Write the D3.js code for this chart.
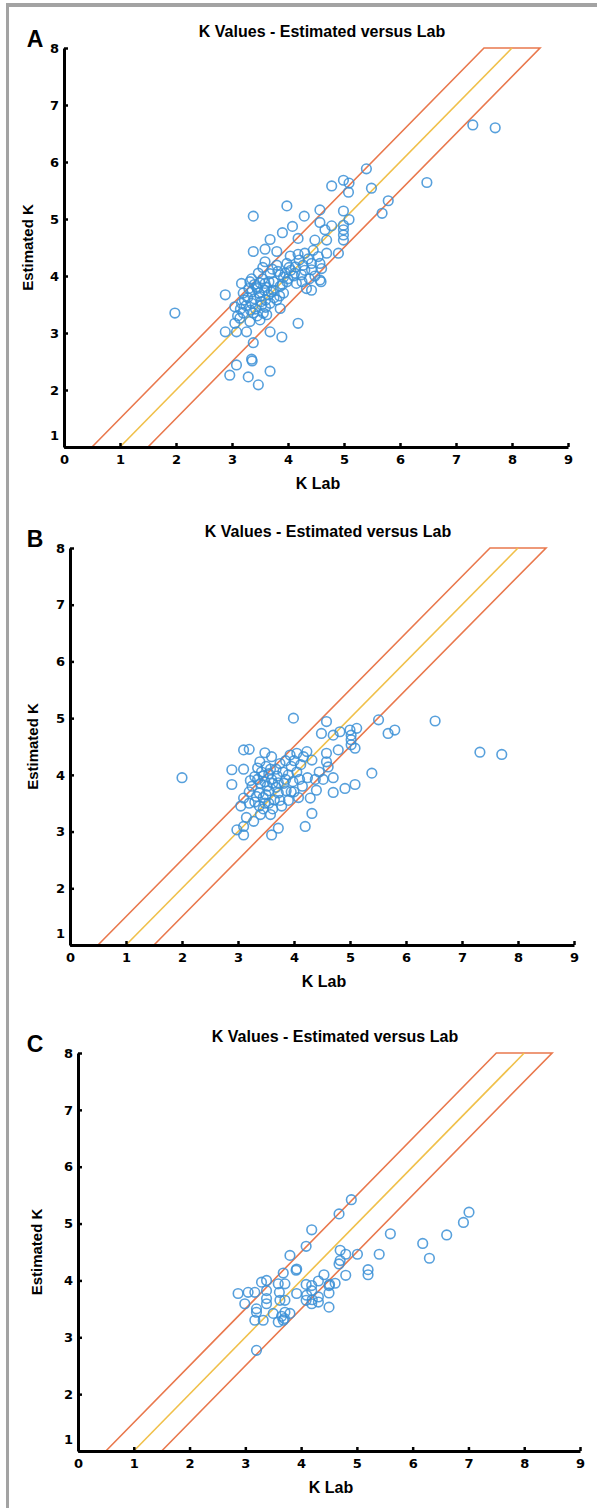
<!DOCTYPE html>
<html>
<head>
<meta charset="utf-8">
<script src="https://cdn.jsdelivr.net/npm/d3@7"></script>
<style>
  body { margin: 0; background: #fff; }
  svg { display: block; }
  .tick text { font-family: "DejaVu Sans", sans-serif; font-weight: bold; font-size: 13px; }
</style>
</head>
<body>
<div id="chart"></div>
<script>
// Axis ticks
const xTicks = [0, 1, 2, 3, 4, 5, 6, 7, 8, 9];
const yTicks = [1, 2, 3, 4, 5, 6, 7, 8];

// Agreement band: y = x and y = x +/- 0.5
const bandUpper = [[0.5, 1], [7.5, 8], [8.5, 8], [1.5, 1]];
const identity = [[1, 1], [8, 8]];

// Panel A points [K Lab, Estimated K]
const pointsA = [
  [5.40, 5.88], [4.99, 5.68], [5.09, 5.63], [4.78, 5.58], [5.08, 5.47], [5.49, 5.54],
  [6.48, 5.64], [5.79, 5.32], [5.68, 5.10], [3.98, 5.23], [3.38, 5.05], [4.29, 5.05],
  [4.57, 5.16], [4.99, 5.14], [5.09, 4.99], [4.99, 4.89], [4.99, 4.81], [4.99, 4.72],
  [4.99, 4.63], [4.57, 4.94], [4.78, 4.88], [4.66, 4.81], [4.08, 4.87], [3.90, 4.76],
  [3.68, 4.64], [4.18, 4.66], [4.48, 4.63], [4.69, 4.63], [3.38, 4.43], [3.59, 4.47],
  [3.80, 4.43], [4.04, 4.35], [4.18, 4.38], [4.30, 4.40], [4.54, 4.34], [4.69, 4.40],
  [4.90, 4.40], [4.57, 4.22], [3.59, 4.25], [3.80, 4.19], [3.98, 4.22], [4.13, 4.16],
  [4.27, 4.19], [4.42, 4.22], [4.60, 4.13], [3.47, 4.05], [3.68, 4.04], [3.86, 4.02],
  [4.10, 4.00], [4.24, 4.02], [4.42, 4.11], [4.57, 3.93], [4.59, 3.90], [3.17, 3.87],
  [3.32, 3.90], [3.44, 3.81], [3.59, 3.87], [3.74, 3.90], [3.86, 3.82], [3.98, 3.90],
  [4.15, 3.87], [4.33, 3.78], [4.42, 3.75], [2.88, 3.67], [3.20, 3.70], [3.35, 3.72],
  [3.50, 3.64], [3.65, 3.67], [3.80, 3.58], [3.92, 3.70], [3.35, 3.52], [3.53, 3.49],
  [3.68, 3.52], [3.86, 3.43], [3.05, 3.46], [3.20, 3.35], [3.38, 3.35], [3.56, 3.35],
  [3.14, 3.26], [3.32, 3.20], [3.50, 3.23], [3.05, 3.17], [4.18, 3.17], [2.88, 3.02],
  [3.08, 3.02], [3.26, 3.02], [3.68, 3.02], [3.89, 2.93], [3.38, 2.83], [3.35, 2.54],
  [3.36, 2.51], [3.08, 2.44], [3.68, 2.33], [2.96, 2.26], [3.29, 2.23], [3.47, 2.09],
  [1.98, 3.35], [3.17, 3.52], [3.74, 3.75], [4.05, 4.10], [3.40, 3.60], [3.45, 3.78],
  [3.55, 3.95], [3.62, 3.80], [3.70, 3.72], [3.28, 3.62], [3.42, 3.42], [3.25, 3.48],
  [3.60, 3.58], [3.95, 4.05], [4.20, 4.28], [4.36, 4.30], [3.10, 3.30], [3.50, 3.88],
  [3.82, 4.08], [4.00, 3.95], [3.35, 3.95], [4.45, 4.45], [7.30, 6.65], [7.70, 6.60],
  [3.30, 3.78], [3.48, 3.70], [3.58, 3.75], [3.66, 3.90], [3.40, 3.85], [3.52, 3.55],
  [3.33, 3.40], [3.45, 3.30], [3.60, 3.45], [3.75, 3.62], [3.90, 3.85], [4.02, 4.15],
  [4.12, 4.05], [4.30, 4.10], [4.38, 3.95], [3.22, 3.58], [3.15, 3.42], [3.92, 3.98],
  [3.72, 4.12], [3.55, 4.15], [4.25, 3.90], [4.48, 4.00], [3.85, 3.65], [3.62, 3.32]
];

// Panel B points [K Lab, Estimated K]
const pointsB = [
  [3.99, 5.00], [4.58, 4.94], [5.51, 4.97], [6.52, 4.95], [5.68, 4.73], [5.80, 4.79],
  [4.49, 4.73], [4.70, 4.70], [4.82, 4.76], [5.00, 4.79], [5.02, 4.70], [5.02, 4.62],
  [5.02, 4.53], [5.12, 4.82], [5.09, 4.47], [4.79, 4.44], [4.58, 4.38], [4.58, 4.23],
  [4.61, 4.14], [5.39, 4.03], [3.10, 4.44], [3.20, 4.45], [3.48, 4.39], [3.60, 4.32],
  [3.93, 4.35], [4.05, 4.38], [4.17, 4.32], [4.23, 4.41], [2.89, 4.09], [3.10, 4.10],
  [3.39, 4.23], [3.75, 4.20], [4.32, 4.26], [3.30, 3.97], [3.42, 4.05], [3.55, 4.02],
  [3.68, 4.10], [2.89, 3.83], [3.10, 3.59], [3.35, 3.92], [3.48, 3.88], [3.60, 3.92],
  [3.72, 3.86], [3.85, 3.92], [3.98, 3.88], [4.10, 3.92], [4.24, 3.95], [4.38, 3.92],
  [4.52, 3.92], [4.91, 3.76], [5.09, 3.83], [4.70, 3.69], [4.40, 3.73], [4.29, 3.59],
  [3.20, 3.70], [3.38, 3.68], [3.55, 3.72], [3.72, 3.68], [3.86, 3.72], [3.05, 3.45],
  [3.20, 3.50], [3.38, 3.45], [3.55, 3.50], [3.65, 3.56], [4.32, 3.32], [4.20, 3.09],
  [3.10, 3.09], [2.98, 3.03], [3.10, 2.94], [3.60, 2.94], [3.72, 3.06], [3.40, 3.30],
  [3.33, 3.62], [3.45, 3.60], [3.62, 3.40], [3.78, 3.45], [3.90, 3.55], [4.00, 3.70],
  [4.05, 4.05], [4.15, 3.80], [3.50, 4.15], [3.85, 4.25], [3.25, 3.80], [3.95, 4.15],
  [4.45, 4.05], [4.70, 3.95], [2.00, 3.95], [7.32, 4.40], [7.71, 4.36],
  [3.40, 3.85], [3.52, 3.80], [3.62, 3.85], [3.45, 3.98], [3.58, 4.10], [3.70, 3.98],
  [3.80, 4.05], [3.90, 4.00], [3.50, 3.65], [3.68, 3.78], [3.30, 3.52], [3.45, 3.40],
  [3.58, 3.30], [3.75, 3.55], [3.82, 3.85], [4.00, 4.25], [4.12, 4.18], [3.35, 4.12],
  [3.22, 3.90], [3.15, 3.25], [3.28, 3.18], [3.95, 3.70], [4.08, 3.60], [3.48, 3.50]
];

// Panel C points [K Lab, Estimated K]
const pointsC = [
  [4.90, 5.42], [4.68, 5.17], [4.19, 4.89], [4.09, 4.60], [3.80, 4.44], [3.91, 4.18],
  [3.92, 4.20], [3.68, 4.13], [5.60, 4.82], [6.18, 4.65], [6.30, 4.39], [6.61, 4.80],
  [6.91, 5.02], [7.01, 5.20], [5.40, 4.46], [5.20, 4.19], [5.20, 4.10], [5.01, 4.46],
  [4.80, 4.09], [4.70, 4.53], [4.80, 4.46], [4.70, 4.35], [4.68, 4.29], [4.61, 3.95],
  [4.50, 3.91], [4.51, 3.93], [4.50, 3.78], [4.50, 3.53], [4.41, 4.10], [4.31, 3.99],
  [4.19, 3.91], [4.19, 3.82], [4.31, 3.71], [4.31, 3.62], [4.19, 3.59], [4.09, 3.93],
  [4.09, 3.65], [4.10, 3.74], [3.92, 3.77], [3.71, 3.94], [3.59, 3.94], [3.61, 3.79],
  [3.71, 3.65], [3.62, 3.65], [3.71, 3.44], [3.68, 3.30], [3.59, 3.27], [3.80, 3.42],
  [3.38, 4.00], [3.29, 3.97], [3.38, 3.82], [3.38, 3.68], [3.38, 3.59], [3.17, 3.79],
  [3.05, 3.79], [2.87, 3.77], [2.99, 3.59], [3.20, 3.50], [3.20, 3.44], [3.17, 3.30],
  [3.32, 3.30], [3.50, 3.42], [3.20, 2.77], [3.65, 3.37], [3.70, 3.33], [4.20, 3.66]
];

// Panel frames (pixel boxes)
const panels = [
  { letter: "A", points: pointsA, x0: 64, x1: 568, yTop: 48, yBot: 447, ylabX: 33 },
  { letter: "B", points: pointsB, x0: 70, x1: 574, yTop: 548, yBot: 945, ylabX: 38 },
  { letter: "C", points: pointsC, x0: 78, x1: 580, yTop: 1053, yBot: 1451, ylabX: 42 }
];

const width = 597, height = 1508;
const blue = "#3a8fd6", orange = "#e9784d", yellow = "#f0c04a";

const svg = d3.select("#chart").append("svg")
  .attr("width", width)
  .attr("height", height);

// gray frame, left and top
svg.append("rect").attr("x", 6).attr("y", 3).attr("width", 3).attr("height", height).attr("fill", "#a3a3a3");
svg.append("rect").attr("x", 6).attr("y", 3).attr("width", width).attr("height", 4).attr("fill", "#a3a3a3");

panels.forEach(p => {
  const x = d3.scaleLinear().domain([0, 9]).range([p.x0, p.x1]);
  const y = d3.scaleLinear().domain([1, 8]).range([p.yBot, p.yTop]);
  const g = svg.append("g");
  const line = d3.line().x(d => x(d[0])).y(d => y(d[1]));

  // title and panel letter
  g.append("text")
    .attr("x", (p.x0 + p.x1) / 2 + 6)
    .attr("y", p.yTop - 11)
    .attr("text-anchor", "middle")
    .attr("font-family", "Liberation Sans Narrow, Liberation Sans, sans-serif")
    .attr("font-weight", "bold")
    .attr("font-size", 16)
    .text("K Values - Estimated versus Lab");

  g.append("text")
    .attr("x", 35)
    .attr("y", p.yTop - 1)
    .attr("text-anchor", "middle")
    .attr("font-family", "Liberation Sans, sans-serif")
    .attr("font-weight", "bold")
    .attr("font-size", 23)
    .text(p.letter);

  // band lines
  g.append("path")
    .datum(bandUpper)
    .attr("fill", "none")
    .attr("stroke", orange)
    .attr("stroke-width", 1.6)
    .attr("d", line);

  g.append("path")
    .datum(identity)
    .attr("fill", "none")
    .attr("stroke", yellow)
    .attr("stroke-width", 1.6)
    .attr("d", line);

  // points
  g.append("g").selectAll("circle")
    .data(p.points)
    .join("circle")
    .attr("cx", d => x(d[0]))
    .attr("cy", d => y(d[1]))
    .attr("r", 4.8)
    .attr("fill", "none")
    .attr("stroke", blue)
    .attr("stroke-opacity", 0.85)
    .attr("stroke-width", 1.6);

  // axes
  const xAxis = g.append("g")
    .attr("transform", `translate(0,${p.yBot})`)
    .call(d3.axisBottom(x).tickValues(xTicks).tickFormat(d3.format("d"))
      .tickSize(-4).tickSizeOuter(0).tickPadding(8));
  const yAxis = g.append("g")
    .attr("transform", `translate(${p.x0},0)`)
    .call(d3.axisLeft(y).tickValues(yTicks).tickFormat(d3.format("d"))
      .tickSize(-4).tickSizeOuter(0).tickPadding(5));

  [xAxis, yAxis].forEach(a => {
    a.select(".domain").attr("stroke-width", 3);
    a.selectAll(".tick line").attr("stroke-width", 2.5);
  });
  yAxis.selectAll(".tick").filter(d => d === 1).select("text").attr("dy", "-0.55em");

  g.append("text")
    .attr("x", (p.x0 + p.x1) / 2 + 2)
    .attr("y", p.yBot + 42)
    .attr("text-anchor", "middle")
    .attr("font-family", "Liberation Sans Narrow, Liberation Sans, sans-serif")
    .attr("font-weight", "bold")
    .attr("font-size", 16)
    .text("K Lab");

  g.append("text")
    .attr("transform", `translate(${p.ylabX},${(p.yTop + p.yBot) / 2}) rotate(-90)`)
    .attr("text-anchor", "middle")
    .attr("font-family", "Liberation Sans Narrow, Liberation Sans, sans-serif")
    .attr("font-weight", "bold")
    .attr("font-size", 15)
    .text("Estimated K");
});
</script>
</body>
</html>
